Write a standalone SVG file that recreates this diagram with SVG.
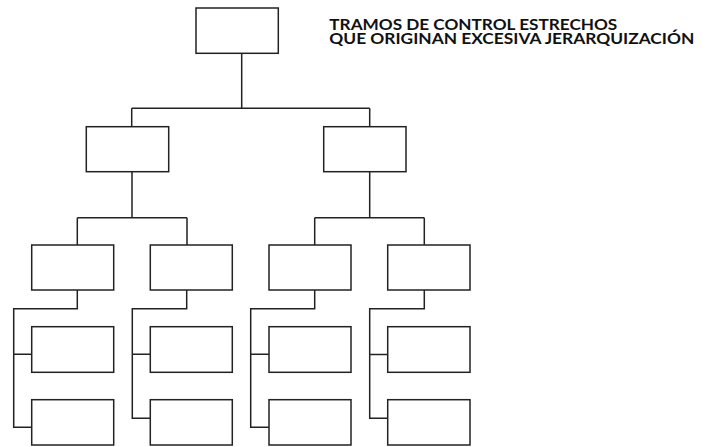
<svg xmlns="http://www.w3.org/2000/svg" width="706" height="447" viewBox="0 0 706 447">
<style>
.box{fill:#fff;stroke:#222;stroke-width:1.5}
.ln{fill:none;stroke:#222;stroke-width:1.5}
.t{font-family:Lato,"Open Sans","Liberation Sans",sans-serif;font-weight:bold;font-size:14.5px;fill:#111}
</style>
<rect width="706" height="447" fill="#fff"/>
<g id="connectors">
<path class="ln" d="M241.7 53.3V108.3M131.7 108.3H369.7M131.7 108.3V126.7M369.7 108.3V126.7"/>
<path class="ln" d="M132 171.7V217.7M77.3 217.7H187M77.3 217.7V245M187 217.7V245"/>
<path class="ln" d="M369.7 171.7V217.7M314.7 217.7H424.3M314.7 217.7V245M424.3 217.7V245"/>
<path class="ln" d="M77.3 290V308.7H13.7V427.3H31.7M13.7 354.3H31.7"/>
<path class="ln" d="M186.7 290V308.7H132.3V418.3H150.3M132.3 354.3H150.3"/>
<path class="ln" d="M314.7 290V308.7H250.7V427.3H269M250.7 354.3H269"/>
<path class="ln" d="M424.3 290V308.7H369.7V418.3H387.7M369.7 354.5H387.7"/>
</g>
<g id="n0"><rect class="box" x="196" y="8" width="82.3" height="45.3"/></g>
<g id="n1"><rect class="box" x="86.3" y="126.7" width="82.4" height="45"/></g>
<g id="n2"><rect class="box" x="323.7" y="126.7" width="82.3" height="45"/></g>
<g id="n3"><rect class="box" x="31.7" y="245" width="82" height="45"/></g>
<g id="n4"><rect class="box" x="150.3" y="245" width="82" height="45"/></g>
<g id="n5"><rect class="box" x="269" y="245" width="82" height="45"/></g>
<g id="n6"><rect class="box" x="387.7" y="245" width="82.3" height="45"/></g>
<g id="n7"><rect class="box" x="31.7" y="326.7" width="82" height="45.6"/></g>
<g id="n8"><rect class="box" x="31.7" y="399.7" width="82" height="45.3"/></g>
<g id="n9"><rect class="box" x="150.3" y="326.7" width="82" height="45.6"/></g>
<g id="n10"><rect class="box" x="150.3" y="399.7" width="82" height="45.3"/></g>
<g id="n11"><rect class="box" x="269" y="326.7" width="82" height="45.6"/></g>
<g id="n12"><rect class="box" x="269" y="399.7" width="82" height="45.3"/></g>
<g id="n13"><rect class="box" x="387.7" y="326.7" width="82.3" height="45.6"/></g>
<g id="n14"><rect class="box" x="387.7" y="399.7" width="82.3" height="45.3"/></g>
<g id="title">
<text class="t"><tspan x="329.3" y="30" textLength="288" lengthAdjust="spacingAndGlyphs">TRAMOS DE CONTROL ESTRECHOS</tspan><tspan x="329.3" y="44.3" textLength="365" lengthAdjust="spacingAndGlyphs">QUE ORIGINAN EXCESIVA JERARQUIZACIÓN</tspan></text>
</g>
</svg>
